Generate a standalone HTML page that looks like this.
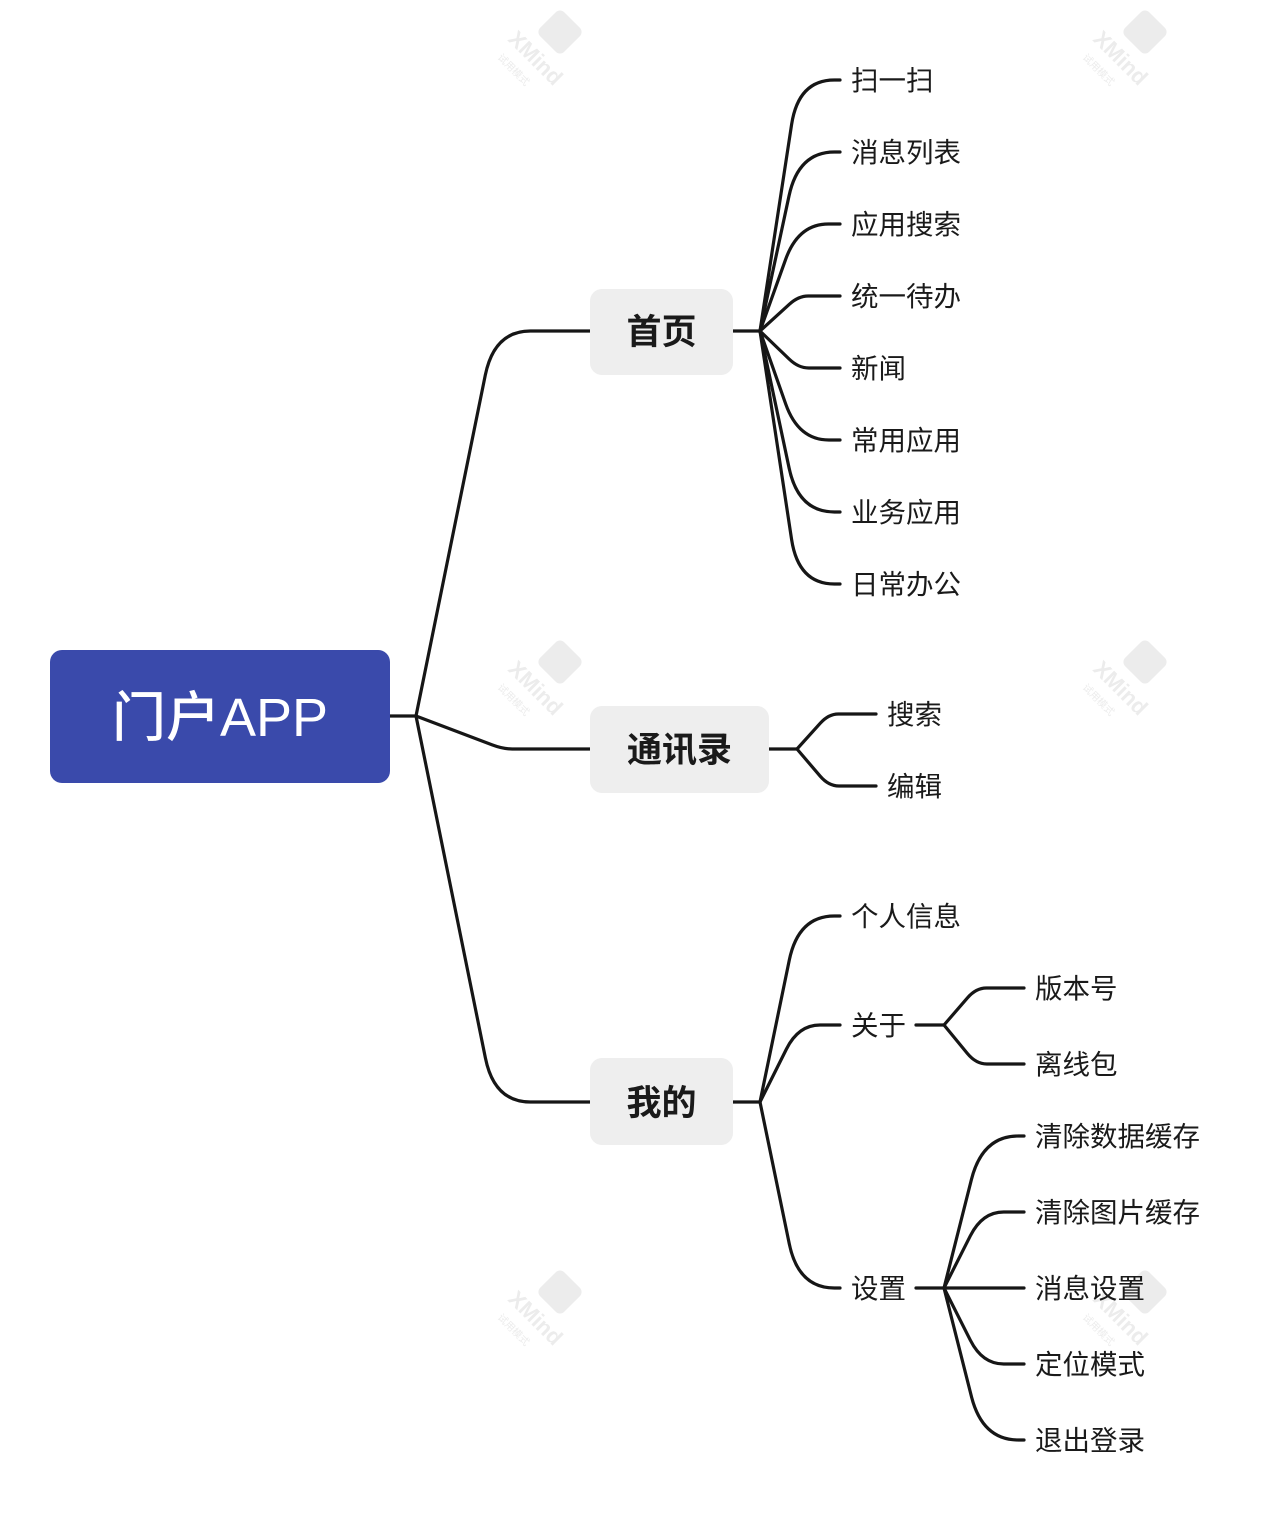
<!DOCTYPE html>
<html><head><meta charset="utf-8"><style>
html,body{margin:0;padding:0;background:#fff;}
svg{display:block;}
text{font-family:"Liberation Sans","Noto Sans CJK SC",sans-serif;}
</style></head><body>
<svg id="s" width="1264" height="1520" viewBox="0 0 1264 1520" xmlns="http://www.w3.org/2000/svg">
<g id="wm" fill="#ececec" font-size="22" font-weight="bold"></g>
<g id="lines" fill="none" stroke="#161616" stroke-width="3.2" stroke-linecap="round"></g>
<rect x="50" y="650" width="340" height="133" rx="12" fill="#3a4aab"/>
<text x="220" y="736" font-size="54" fill="#fff" text-anchor="middle" font-weight="500">门户APP</text>
<rect x="590" y="289" width="143" height="86" rx="12" fill="#eeeeee"/>
<text x="661.5" y="344" font-size="35" font-weight="bold" text-anchor="middle" fill="#1a1a1a">首页</text>
<rect x="590" y="706" width="179" height="87" rx="12" fill="#eeeeee"/>
<text x="679.5" y="762" font-size="35" font-weight="bold" text-anchor="middle" fill="#1a1a1a">通讯录</text>
<rect x="590" y="1058" width="143" height="87" rx="12" fill="#eeeeee"/>
<text x="661.5" y="1115" font-size="35" font-weight="bold" text-anchor="middle" fill="#1a1a1a">我的</text>
<g id="labels" font-size="27.5" fill="#1a1a1a"></g>
</svg>
<script>
var L=document.getElementById('lines'),T=document.getElementById('labels'),W=document.getElementById('wm');
var NS='http://www.w3.org/2000/svg';
function el(p,tag,a,txt){var e=document.createElementNS(NS,tag);for(var k in a)e.setAttribute(k,a[k]);if(txt)e.textContent=txt;p.appendChild(e);return e;}
function seg(x1,y,x2){el(L,'path',{d:'M'+x1+','+y+' L'+x2+','+y});}
function br(fx,fy,ex,ey,f){
  var cx=fx+(ex-fx)*(f||0.45);
  var dy=ey-fy;
  if(Math.abs(dy)<1){el(L,'path',{d:'M'+fx+','+fy+' L'+ex+','+ey});return;}
  var dx=cx-fx, len=Math.sqrt(dx*dx+dy*dy);
  var r=Math.min(45,Math.abs(dy)*0.35,len*0.5);
  var px=cx-dx/len*r, py=ey-dy/len*r;
  var qx=Math.min(cx+r*0.8,ex);
  el(L,'path',{d:'M'+fx+','+fy+' L'+px.toFixed(1)+','+py.toFixed(1)+' Q'+cx.toFixed(1)+','+ey+' '+qx.toFixed(1)+','+ey+' L'+ex+','+ey});
}
function lab(x,y,t){el(T,'text',{x:x,y:y+10},t);}
seg(389,716,416);
br(416,716,590,331,0.45);
br(416,716,590,749,0.5);
br(416,716,590,1102,0.45);
seg(733,331,760);
var a=[['扫一扫',80],['消息列表',152],['应用搜索',224],['统一待办',296],['新闻',368],['常用应用',440],['业务应用',512],['日常办公',584]];
a.forEach(function(i){br(760,331,840,i[1],0.48);lab(851,i[1],i[0]);});
seg(769,749,797);
[['搜索',714],['编辑',786]].forEach(function(i){br(797,749,876,i[1],0.4);lab(887,i[1],i[0]);});
seg(733,1102,760);
[['个人信息',916],['关于',1025],['设置',1288]].forEach(function(i){br(760,1102,840,i[1],0.48);lab(851,i[1],i[0]);});
seg(916,1025,944);
[['版本号',988],['离线包',1064]].forEach(function(i){br(944,1025,1024,i[1],0.4);lab(1035,i[1],i[0]);});
seg(916,1288,944);
[['清除数据缓存',1136],['清除图片缓存',1212],['消息设置',1288],['定位模式',1364],['退出登录',1440]].forEach(function(i){br(944,1288,1024,i[1],0.48);lab(1035,i[1],i[0]);});
[[535,50],[1120,50],[535,680],[1120,680],[535,1310],[1120,1310]].forEach(function(p){
  var g=el(W,'g',{transform:'translate('+p[0]+','+p[1]+')'});
  el(g,'rect',{x:8,y:-35,width:34,height:34,rx:6,transform:'rotate(45 25 -18)'});
  el(g,'text',{x:-28,y:-10,transform:'rotate(45 -28 -10)'},'XMind');
  el(g,'text',{x:-38,y:8,'font-size':10,'font-weight':'normal',transform:'rotate(45 -38 8)'},'试用模式');
});
</script>
</body></html>
